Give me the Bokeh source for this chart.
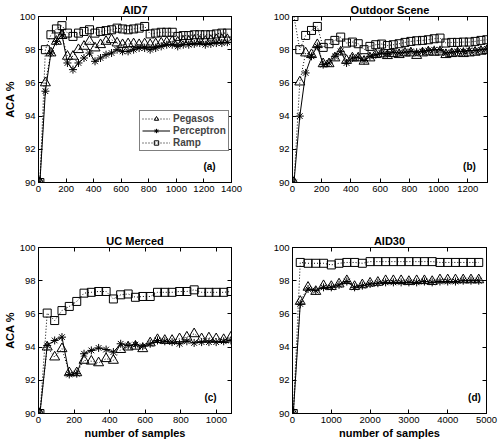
import math
from bokeh.plotting import figure
from bokeh.models import Range1d, FixedTicker, LinearAxis, Label
from bokeh.layouts import column, row
from bokeh.embed import file_html
from bokeh.resources import INLINE

# ---------------- data ----------------
series_names = ["Pegasos", "Perceptron", "Ramp"]
y_ticks = [90, 92, 94, 96, 98, 100]

# (a) AID7
x_a = [10, 50, 90, 130, 170, 210, 250, 290, 330, 370, 410, 450, 490, 530, 570, 610, 650, 690,
       730, 770, 810, 850, 890, 930, 970, 1010, 1050, 1090, 1130, 1170, 1210, 1250, 1290, 1330, 1370]
pegasos_a = [90.0, 96.0, 97.8, 98.5, 98.85, 97.6, 97.6, 98.0, 98.2, 98.5, 98.1, 98.3, 98.5, 98.6, 98.4,
             98.3, 98.35, 98.35, 98.3, 98.35, 98.3, 98.35, 98.4, 98.45, 98.5, 98.45, 98.5, 98.5, 98.55,
             98.5, 98.5, 98.55, 98.6, 98.6, 98.6]
perceptron_a = [90.0, 95.5, 97.8, 98.5, 98.9, 97.2, 96.8, 97.2, 97.5, 97.8, 97.3, 97.5, 97.7, 97.8, 98.0,
                97.9, 97.9, 98.0, 98.1, 98.1, 98.0, 98.1, 98.2, 98.3, 98.3, 98.2, 98.3, 98.3, 98.35,
                98.4, 98.3, 98.35, 98.4, 98.4, 98.45]
ramp_a = [90.0, 98.0, 98.9, 99.25, 99.45, 99.0, 98.8, 99.0, 99.1, 99.2, 99.0, 99.1, 99.15, 99.2, 99.3,
          99.25, 99.2, 99.25, 99.3, 99.4, 98.95, 99.0, 99.05, 99.05, 99.05, 98.8, 98.85, 98.85, 98.9,
          98.9, 98.9, 98.9, 98.95, 99.0, 99.0]
xticks_a = [0, 200, 400, 600, 800, 1000, 1200, 1400]

# (b) Outdoor Scene
x_b = [10, 50, 90, 130, 170, 210, 250, 290, 330, 370, 410, 450, 490, 530, 570, 610, 650, 690,
       730, 770, 810, 850, 890, 930, 970, 1010, 1050, 1090, 1130, 1170, 1210, 1250, 1290, 1330]
pegasos_b = [90.0, 96.05, 97.8, 97.7, 98.3, 97.15, 97.15, 97.5, 97.86, 97.35, 97.5, 97.5, 97.3,
             97.5, 97.7, 97.74, 97.64, 97.76, 97.7, 97.8, 97.8, 97.65, 97.8, 97.86, 97.84, 97.86,
             97.7, 97.76, 97.8, 97.76, 97.8, 97.84, 97.9, 97.94]
perceptron_b = [90.0, 94.0, 96.6, 97.6, 98.2, 97.1, 97.2, 97.6, 97.9, 97.2, 97.5, 97.55, 97.35,
                97.6, 97.7, 97.8, 97.75, 97.85, 97.8, 97.85, 97.9, 97.85, 97.9, 97.95, 98.0, 98.0,
                97.8, 97.85, 97.9, 97.9, 97.95, 97.95, 98.0, 98.05]
ramp_b = [100.0, 98.0, 98.86, 99.16, 99.4, 98.14, 98.36, 98.56, 98.76, 98.4, 98.46, 98.36, 98.0,
          98.2, 98.3, 98.34, 98.25, 98.3, 98.36, 98.44, 98.5, 98.54, 98.56, 98.6, 98.66, 98.7,
          98.4, 98.44, 98.44, 98.46, 98.46, 98.5, 98.56, 98.6]
xticks_b = [0, 200, 400, 600, 800, 1000, 1200]

# (c) UC Merced
x_c = [8, 49, 91, 132, 173, 215, 256, 297, 338, 380, 421, 462, 504, 545, 586, 628, 669, 710,
       751, 793, 834, 875, 917, 958, 999, 1041, 1082]
pegasos_c = [90.0, 94.0, 93.4, 93.9, 92.45, 92.45, 93.2, 93.15, 93.05, 93.3, 93.2, 93.85, 94.0,
             94.05, 93.9, 94.25, 94.45, 94.4, 94.4, 94.5, 94.6, 94.8, 94.5, 94.55, 94.5, 94.45, 94.6]
perceptron_c = [90.0, 94.1, 94.4, 94.6, 92.35, 92.4, 93.6, 93.8, 93.95, 93.85, 93.7, 94.2, 94.1,
                94.15, 94.05, 94.2, 94.4, 94.35, 94.3, 94.2, 94.35, 94.25, 94.3, 94.3, 94.3, 94.35, 94.4]
ramp_c = [90.0, 96.05, 95.6, 96.2, 96.45, 96.75, 97.25, 97.3, 97.35, 97.35, 96.9, 97.15, 97.2,
          97.0, 97.05, 97.05, 97.3, 97.3, 97.3, 97.35, 97.35, 97.45, 97.3, 97.3, 97.3, 97.3, 97.35]
xticks_c = [0, 200, 400, 600, 800, 1000]

# (d) AID30
x_d = [20, 200, 400, 600, 800, 1000, 1200, 1400, 1600, 1800, 2000, 2200, 2400, 2600, 2800,
       3000, 3200, 3400, 3600, 3800, 4000, 4200, 4400, 4600, 4800]
pegasos_d = [90.0, 96.75, 97.6, 97.35, 97.7, 97.65, 97.8, 98.0, 97.65, 97.75, 97.85, 97.9, 98.0,
             98.0, 98.0, 97.95, 98.0, 98.0, 97.95, 98.05, 98.05, 98.05, 98.05, 98.05, 98.05]
perceptron_d = [90.0, 96.6, 97.5, 97.4, 97.6, 97.6, 97.75, 97.95, 97.6, 97.7, 97.8, 97.85, 97.9,
                97.9, 97.9, 97.9, 97.9, 97.95, 97.9, 97.95, 97.95, 97.95, 98.0, 98.0, 98.0]
ramp_d = [90.0, 99.1, 99.05, 99.05, 99.05, 98.95, 99.05, 99.1, 99.1, 99.05, 99.15, 99.15, 99.15,
          99.15, 99.15, 99.15, 99.15, 99.15, 99.15, 99.1, 99.1, 99.1, 99.1, 99.1, 99.1]
xticks_d = [0, 1000, 2000, 3000, 4000, 5000]

FONT = "Liberation Sans"


def panel(title, letter, xs, peg, per, ramp, xmax, xticks, mb_left, frame_w, mb_right,
          frame_h, mb_top, mb_bottom, letter_dx, letter_dy,
          ylabel=False, xlabel=False, legend=False):
    p = figure(frame_width=frame_w, frame_height=frame_h, min_border_left=mb_left,
               min_border_right=mb_right, min_border_top=mb_top, min_border_bottom=mb_bottom,
               x_range=Range1d(0, xmax), y_range=Range1d(90, 100), title=title,
               output_backend="svg", toolbar_location=None, tools="")
    p.title.align = "center"
    p.title.text_font = FONT
    p.title.text_font_style = "bold"
    p.title.text_font_size = "11px"
    p.title.text_color = "black"
    p.title.standoff = 2
    p.title.offset = 0
    p.grid.visible = False
    p.outline_line_color = "black"
    p.outline_line_width = 1
    p.background_fill_color = "white"
    p.border_fill_color = "white"

    p.xaxis.ticker = FixedTicker(ticks=xticks)
    p.yaxis.ticker = FixedTicker(ticks=y_ticks)
    for ax in (p.xaxis[0], p.yaxis[0]):
        ax.major_tick_in = 4
        ax.major_tick_out = 0
        ax.minor_tick_line_color = None
        ax.axis_line_color = "black"
        ax.major_tick_line_color = "black"
        ax.major_label_text_font = FONT
        ax.major_label_text_font_size = "9.5px"
        ax.major_label_text_color = "black"
        ax.axis_label_text_font = FONT
        ax.axis_label_text_font_style = "bold"
        ax.axis_label_text_font_size = "11px"
        ax.axis_label_text_color = "black"
        ax.axis_label_standoff = 1
    p.xaxis.major_label_standoff = 3
    p.yaxis.major_label_standoff = 3
    if ylabel:
        p.yaxis.axis_label = "ACA %"
    if xlabel:
        p.xaxis.axis_label = "number of samples"

    # mirrored ticks on top and right (MATLAB box)
    for loc, tk in (("above", xticks), ("right", y_ticks)):
        ax = LinearAxis(ticker=FixedTicker(ticks=tk), major_tick_in=4, major_tick_out=0,
                        minor_tick_line_color=None, major_label_text_font_size="0px",
                        major_label_text_alpha=0, major_label_standoff=0,
                        axis_line_color="black")
        p.add_layout(ax, loc)

    kw = dict(line_color="black", line_width=1)
    mk = dict(line_color="black", fill_color=None, line_width=1)
    if legend:
        p.line(xs, peg, line_dash="1 2", legend_label=series_names[0], **kw)
        p.scatter(xs, peg, marker="triangle", size=10, legend_label=series_names[0], **mk)
        p.line(xs, per, legend_label=series_names[1], **kw)
        p.scatter(xs, per, marker="asterisk", size=8, legend_label=series_names[1], **mk)
        p.line(xs, ramp, line_dash="1 2", legend_label=series_names[2], **kw)
        p.scatter(xs, ramp, marker="square", size=8, legend_label=series_names[2], **mk)
        lg = p.legend[0]
        lg.location = (101, 31)
        lg.label_text_font = FONT
        lg.label_text_font_style = "bold"
        lg.label_text_font_size = "10px"
        lg.label_height = 11
        lg.glyph_height = 11
        lg.glyph_width = 28
        lg.label_standoff = 3
        lg.spacing = 1
        lg.padding = 2
        lg.margin = 0
        lg.border_line_color = "black"
        lg.border_line_width = 1
        lg.background_fill_color = "white"
        lg.background_fill_alpha = 1
    else:
        p.line(xs, peg, line_dash="1 2", **kw)
        p.scatter(xs, peg, marker="triangle", size=10, **mk)
        p.line(xs, per, **kw)
        p.scatter(xs, per, marker="asterisk", size=8, **mk)
        p.line(xs, ramp, line_dash="1 2", **kw)
        p.scatter(xs, ramp, marker="square", size=8, **mk)

    p.add_layout(Label(x=frame_w - letter_dx, y=letter_dy, x_units="screen", y_units="screen",
                       text=letter, text_align="center", text_baseline="middle",
                       text_font=FONT, text_font_style="bold", text_font_size="10px",
                       text_color="black"))
    return p


# top row: canvas y 0..226, frames 16..182 ; bottom row: 226..445, frames 247..413
pa = panel("AID7", "(a)", x_a, pegasos_a, perceptron_a, ramp_a, 1400, xticks_a,
           37, 193, 32, 166, 16, 44, 22, 16, ylabel=True, legend=True)
pb = panel("Outdoor Scene", "(b)", x_b, pegasos_b, perceptron_b, ramp_b, 1335, xticks_b,
           29, 195, 14, 166, 16, 44, 18, 16)
pc = panel("UC Merced", "(c)", x_c, pegasos_c, perceptron_c, ramp_c, 1085, xticks_c,
           37, 193, 32, 166, 21, 32, 21, 16, ylabel=True, xlabel=True)
pd = panel("AID30", "(d)", x_d, pegasos_d, perceptron_d, ramp_d, 5000, xticks_d,
           29, 194, 15, 166, 21, 32, 12, 16, xlabel=True)

layout = column(row(pa, pb), row(pc, pd))

with open("out.html", "w") as f:
    f.write(file_html(layout, INLINE))
